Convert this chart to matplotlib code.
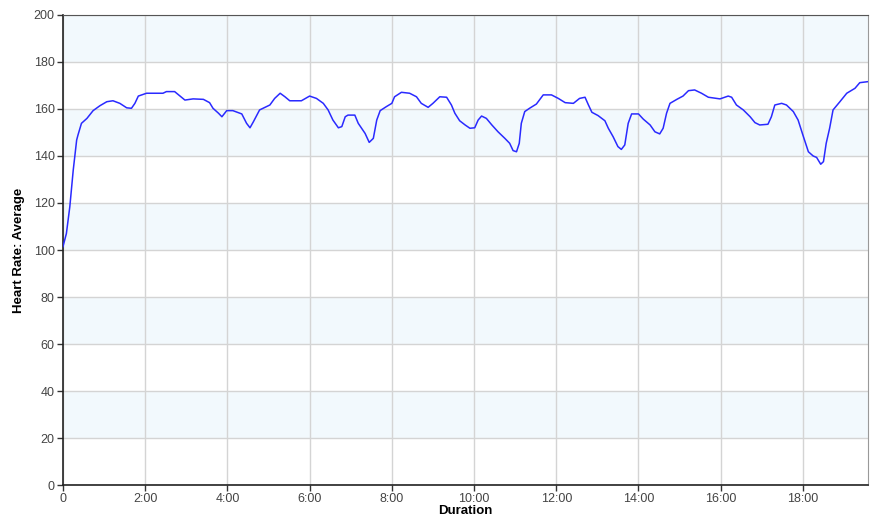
import matplotlib
matplotlib.use("Agg")
from matplotlib import pyplot as plt
from matplotlib.ticker import FuncFormatter, MultipleLocator

# tid i sekunder og puls lest av bildet
secs = [0, 5, 10, 15, 20, 22, 27, 35, 44, 54, 64, 73, 83, 93, 100, 105, 110, 122,
        146, 151, 163, 171, 178, 190, 205, 214, 219, 227, 232, 239, 248, 261, 268,
        273, 278, 287, 302, 309, 317, 324, 331, 348, 360, 370, 380, 387, 394, 402,
        407, 412, 416, 426, 431, 441, 447, 453, 458, 463, 472, 480, 484, 494, 506,
        516, 523, 533, 540, 550, 560, 567, 572, 579, 587, 594, 601, 606, 611, 618,
        626, 635, 645, 652, 657, 662, 666, 669, 674, 681, 691, 701, 713, 723, 733,
        745, 754, 762, 767, 772, 781, 791, 796, 803, 810, 815, 820, 825, 830, 840,
        847, 857, 864, 871, 876, 881, 886, 896, 905, 913, 922, 932, 942, 959, 971,
        976, 983, 993, 1003, 1010, 1017, 1029, 1034, 1039, 1049, 1056, 1066, 1073,
        1080, 1088, 1095, 1100, 1106, 1110, 1114, 1119, 1124, 1134, 1144, 1156,
        1163, 1174]
hr = [101.4, 107, 118.4, 134, 146.8, 149, 153.9, 156, 159.3, 161.4, 163.1, 163.5,
      162.4, 160.5, 160.3, 162.4, 165.5, 166.7, 166.7, 167.4, 167.4, 165.5, 163.8,
      164.3, 164.1, 162.7, 160.3, 158.2, 156.7, 159.3, 159.3, 157.9, 153.9, 152,
      154.6, 159.6, 161.7, 164.5, 166.7, 165.2, 163.5, 163.5, 165.5, 164.5, 162.4,
      159.6, 155.3, 152, 152.5, 156.7, 157.4, 157.4, 153.9, 149.6, 145.8, 147.5,
      155.3, 159.3, 161, 162.4, 165.2, 167.1, 166.7, 165.2, 162.4, 160.7, 162.4,
      165.2, 165, 161.7, 158.2, 155, 153.2, 151.8, 152, 155.3, 157, 156, 153.2,
      150.3, 147.5, 145.4, 142.3, 141.8, 145.4, 153.9, 158.9, 160.3, 162.1, 166,
      166, 164.5, 162.7, 162.4, 164.5, 165, 161.7, 158.6, 157.2, 155, 151.8, 148.2,
      144, 142.8, 144.7, 153.9, 157.9, 157.9, 155.7, 153.2, 150.3, 149.4, 151.8,
      158.2, 162.4, 164.1, 165.5, 167.8, 168.1, 166.7, 165, 164.3, 165.5, 165,
      161.7, 159.6, 156.7, 154.2, 153.2, 153.5, 156.7, 161.7, 162.4, 161.7, 158.9,
      155.3, 148.9, 141.8, 140, 139.4, 136.5, 137.6, 145.4, 151.8, 159.6, 163.1,
      166.7, 168.8, 171.2, 171.6]

plt.rcParams['font.family'] = ['Liberation Sans', 'DejaVu Sans']

fig = plt.figure(figsize=(8.83, 5.24), dpi=100)
ax = fig.add_axes([0.0713, 0.0744, 0.9117, 0.897])

# annenhvert band lyseblått
for lo in range(20, 200, 40):
    ax.axhspan(lo, lo + 20, color='#f2f9fd', zorder=0, lw=0)

ax.plot(secs, hr, color='#2a2aff', lw=1.1, zorder=3)

ax.set_xlim(0, 1175)
ax.set_ylim(0, 200)
ax.xaxis.set_major_locator(MultipleLocator(120))
ax.yaxis.set_major_locator(MultipleLocator(20))
ax.xaxis.set_major_formatter(FuncFormatter(
    lambda v, p: '0' if v == 0 else '%d:%02d' % (v // 60, v % 60)))
ax.grid(True, color='#d4d4d4', lw=1, zorder=1)
ax.set_axisbelow(True)

ax.tick_params(labelsize=9, colors='#444444', length=4, width=1, pad=2)
ax.tick_params(axis='both', color='#333333')
for s in ['left', 'bottom']:
    ax.spines[s].set_color('#222222')
    ax.spines[s].set_linewidth(1.2)
ax.spines['top'].set_color('#555555')
ax.spines['right'].set_color('#999999')

ax.set_xlabel('Duration', fontsize=9.5, fontweight='bold', labelpad=0)
ax.set_ylabel('Heart Rate: Average', fontsize=9.5, fontweight='bold', labelpad=6)

fig.savefig('out.png', dpi=100)
